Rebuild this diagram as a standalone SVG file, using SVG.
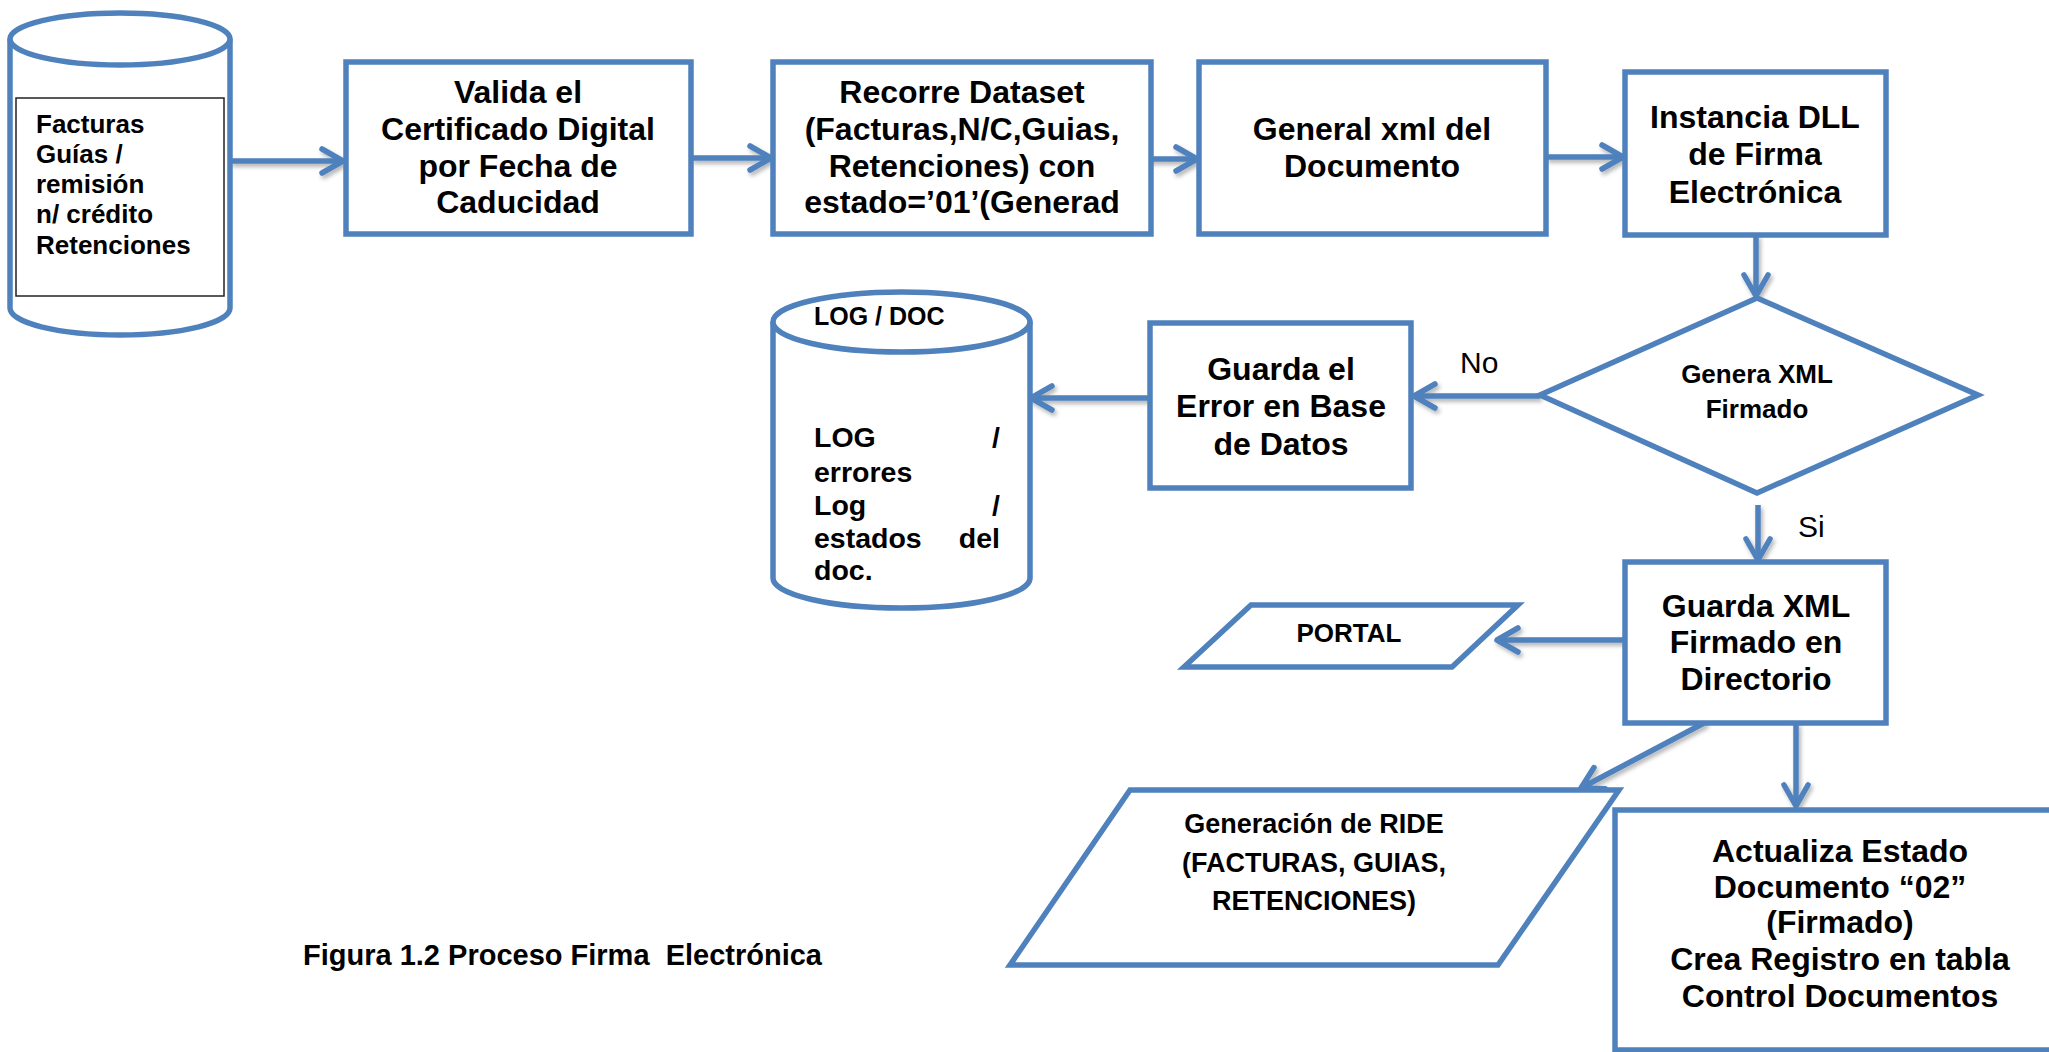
<svg xmlns="http://www.w3.org/2000/svg" width="2049" height="1052" viewBox="0 0 2049 1052">
<style>
.shape{fill:#fff;stroke:#4F81BD;stroke-width:5.5;stroke-linejoin:miter}
.conn{fill:none;stroke:#4F81BD;stroke-width:5.5}
.t{font-family:"Liberation Sans",Arial,sans-serif;font-weight:bold;font-size:32px;fill:#000;text-anchor:middle}
.t26{font-family:"Liberation Sans",Arial,sans-serif;font-weight:bold;font-size:26px;fill:#000}
.lbl{font-family:"Liberation Sans",Arial,sans-serif;font-size:30px;fill:#000}
.log{font-family:"Liberation Sans",Arial,sans-serif;font-weight:bold;font-size:28.5px;fill:#000}
</style>
<defs>
<marker id="arr" viewBox="-26 -16 30 32" refX="0" refY="0" markerWidth="30" markerHeight="32" markerUnits="userSpaceOnUse" orient="auto">
<path d="M-21,-12 L0,0 L-21,12" fill="none" stroke="#4F81BD" stroke-width="5.5" stroke-linecap="round" stroke-linejoin="round"/>
</marker>
<filter id="sh" x="-20%" y="-50%" width="140%" height="200%">
<feDropShadow dx="2" dy="3" stdDeviation="2" flood-color="#000" flood-opacity="0.3"/>
</filter>
<clipPath id="logclip"><rect x="775" y="420" width="255" height="161"/></clipPath>
</defs>
<rect width="2049" height="1052" fill="#fff"/>

<g id="connectors" filter="url(#sh)">
<line class="conn" x1="230" y1="161" x2="343" y2="161" marker-end="url(#arr)"/>
<line class="conn" x1="691" y1="158" x2="771" y2="158" marker-end="url(#arr)"/>
<line class="conn" x1="1117" y1="159" x2="1197" y2="159" marker-end="url(#arr)"/>
<line class="conn" x1="1546" y1="157" x2="1623" y2="157" marker-end="url(#arr)"/>
<line class="conn" x1="1756" y1="235" x2="1756" y2="296" marker-end="url(#arr)"/>
<line class="conn" x1="1540" y1="396" x2="1414" y2="396" marker-end="url(#arr)"/>
<line class="conn" x1="1150" y1="398" x2="1031" y2="398" marker-end="url(#arr)"/>
<line class="conn" x1="1758" y1="505" x2="1758" y2="560" marker-end="url(#arr)"/>
<line class="conn" x1="1625" y1="640" x2="1497" y2="640" marker-end="url(#arr)"/>
<line class="conn" x1="1706" y1="722" x2="1581" y2="788" marker-end="url(#arr)"/>
<line class="conn" x1="1796" y1="723" x2="1796" y2="806" marker-end="url(#arr)"/>
</g>

<g id="db-facturas">
<path class="shape" d="M10,39 L10,308 A110,27 0 0,0 230,308 L230,39"/>
<ellipse class="shape" cx="120" cy="39" rx="110" ry="26"/>
<rect x="16" y="98" width="208" height="198" fill="#fff" stroke="#222" stroke-width="1.5"/>
<text class="t26" x="36" y="133">Facturas</text>
<text class="t26" x="36" y="163">Guías /</text>
<text class="t26" x="36" y="193">remisión</text>
<text class="t26" x="36" y="223">n/ crédito</text>
<text class="t26" x="36" y="254">Retenciones</text>
</g>

<g id="valida">
<rect class="shape" x="346" y="62" width="345" height="172"/>
<text class="t" x="518" y="103">Valida el</text>
<text class="t" x="518" y="140">Certificado Digital</text>
<text class="t" x="518" y="177">por Fecha de</text>
<text class="t" x="518" y="213">Caducidad</text>
</g>

<g id="recorre">
<rect class="shape" x="773" y="62" width="378" height="172"/>
<text class="t" x="962" y="103">Recorre Dataset</text>
<text class="t" x="962" y="140">(Facturas,N/C,Guias,</text>
<text class="t" x="962" y="177">Retenciones) con</text>
<text class="t" x="962" y="213">estado=’01’(Generad</text>
</g>

<g id="general">
<rect class="shape" x="1199" y="62" width="347" height="172"/>
<text class="t" x="1372" y="140">General xml del</text>
<text class="t" x="1372" y="177">Documento</text>
</g>

<g id="instancia">
<rect class="shape" x="1625" y="72" width="261" height="163"/>
<text class="t" x="1755" y="128">Instancia DLL</text>
<text class="t" x="1755" y="165">de Firma</text>
<text class="t" x="1755" y="203">Electrónica</text>
</g>

<g id="decision">
<polygon class="shape" points="1757,298 1978,395 1757,493 1540,395"/>
<text class="t" style="font-size:26px" x="1757" y="383">Genera XML</text>
<text class="t" style="font-size:26px" x="1757" y="418">Firmado</text>
</g>

<g id="guarda-error">
<rect class="shape" x="1150" y="323" width="261" height="165"/>
<text class="t" x="1281" y="380">Guarda el</text>
<text class="t" x="1281" y="417">Error en Base</text>
<text class="t" x="1281" y="455">de Datos</text>
</g>

<g id="db-log">
<path class="shape" d="M773,322 L773,578 A128.5,30 0 0,0 1030,578 L1030,322"/>
<ellipse class="shape" cx="901.5" cy="322" rx="128.5" ry="30"/>
<text class="t26" style="font-size:25px" x="814" y="325">LOG / DOC</text>
<g clip-path="url(#logclip)">
<text class="log" x="814" y="447">LOG</text>
<text class="log" x="1000" y="447" text-anchor="end">/</text>
<text class="log" x="814" y="482">errores</text>
<text class="log" x="814" y="515">Log</text>
<text class="log" x="1000" y="515" text-anchor="end">/</text>
<text class="log" x="814" y="548">estados</text>
<text class="log" x="1000" y="548" text-anchor="end">del</text>
<text class="log" x="814" y="580">doc.</text>
</g>
</g>

<g id="guarda-xml">
<rect class="shape" x="1625" y="562" width="261" height="161"/>
<text class="t" x="1756" y="617">Guarda XML</text>
<text class="t" x="1756" y="653">Firmado en</text>
<text class="t" x="1756" y="690">Directorio</text>
</g>

<g id="portal">
<polygon class="shape" points="1251,605 1518,605 1452,667 1184,667"/>
<text class="t" style="font-size:26px" x="1349" y="642">PORTAL</text>
</g>

<g id="ride">
<polygon class="shape" points="1130,790 1619,790 1498,965 1010,965"/>
<text class="t" style="font-size:27px" x="1314" y="833">Generación de RIDE</text>
<text class="t" style="font-size:27px" x="1314" y="872">(FACTURAS, GUIAS,</text>
<text class="t" style="font-size:27px" x="1314" y="910">RETENCIONES)</text>
</g>

<g id="actualiza">
<rect class="shape" x="1615" y="810" width="500" height="240"/>
<text class="t" x="1840" y="862">Actualiza Estado</text>
<text class="t" x="1840" y="898">Documento “02”</text>
<text class="t" x="1840" y="933">(Firmado)</text>
<text class="t" x="1840" y="970">Crea Registro en tabla</text>
<text class="t" x="1840" y="1007">Control Documentos</text>
</g>

<g id="labels">
<text class="lbl" x="1460" y="373">No</text>
<text class="lbl" x="1798" y="537">Si</text>
<text class="t" style="font-size:29px;text-anchor:start;white-space:pre" x="303" y="965">Figura 1.2 Proceso Firma  Electrónica</text>
</g>
</svg>
